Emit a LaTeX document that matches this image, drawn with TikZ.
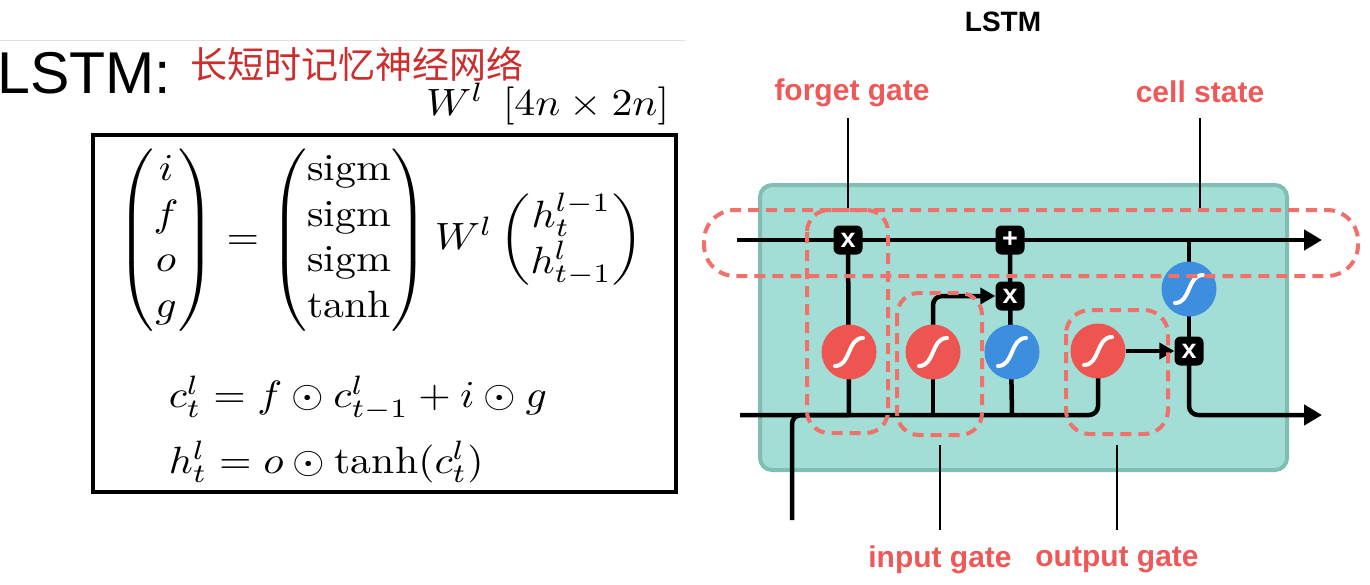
\documentclass[tikz,border=0pt]{standalone}
\usepackage{fontspec}
\usepackage{amsmath}
\newfontfamily\arial{Liberation Sans}
\newfontfamily\cjk{Noto Sans CJK SC}
\usetikzlibrary{arrows.meta}
\pgfdeclarelayer{back}\pgfdeclarelayer{lines}\pgfdeclarelayer{fore}
\pgfsetlayers{back,lines,main,fore}
\definecolor{tealfill}{RGB}{162,222,213}
\definecolor{tealborder}{RGB}{128,190,180}
\definecolor{sigred}{RGB}{238,85,80}
\definecolor{sigblue}{RGB}{62,142,224}
\definecolor{dashred}{RGB}{240,112,106}
\definecolor{labred}{RGB}{238,88,88}
\definecolor{cnred}{RGB}{205,45,45}
\begin{document}
\begin{tikzpicture}[x=1pt,y=-1pt,
 conn/.style={line width=4.5pt, draw=black},
 arr/.style={conn,-{Triangle[length=18pt,width=20pt]}},
 sarr/.style={conn,-{Triangle[length=15pt,width=16pt]}},
 op/.style={fill=black, rounded corners=6pt, minimum size=29pt, inner sep=0pt, text=white, font=\arial\bfseries\fontsize{27}{27}\selectfont},
 sg/.style={circle, fill=#1, minimum size=55pt, inner sep=0pt},
 gd/.style={draw=dashred, line width=4pt, dash pattern=on 11pt off 7pt, rounded corners=#1},
 lab/.style={text=labred, font=\arial\bfseries\fontsize{30}{32}\selectfont, inner sep=0pt},
 pointer/.style={line width=2pt, draw=black},
 eqn/.style={inner sep=0pt, xscale=4.18, yscale=3.8}
]
\useasboundingbox (0,0) rectangle (1370,584);
% ---------- left side ----------
\draw[black!12, line width=1pt] (0,40) -- (685,40);
\node[anchor=west, inner sep=0pt, font=\arial\fontsize{59}{60}\selectfont] (title) at (-3,73) {LSTM:};
\node[anchor=west, inner sep=0pt, text=cnred, font=\cjk\fontsize{37}{38}\selectfont] (cn) at (190,64) {长短时记忆神经网络};
\node[anchor=east, eqn] (wdim) at (670,104) {$W^l\;\,[4n\times 2n]$};
\node[draw, line width=4pt, minimum width=583pt, minimum height=357pt, inner sep=0pt] (box) at (384.5,313.5) {};
\node[eqn] (eq1) at (380,240) {$\begin{pmatrix} i\\ f\\ o\\ g\end{pmatrix} = \begin{pmatrix}\mathrm{sigm}\\ \mathrm{sigm}\\ \mathrm{sigm}\\ \tanh\end{pmatrix} W^l \begin{pmatrix} h^{l-1}_t\\ h^l_{t-1}\end{pmatrix}$};
\node[anchor=west, eqn] (eq2) at (168,398) {$c^l_t = f\odot c^l_{t-1} + i\odot g$};
\node[anchor=west, eqn] (eq3) at (168,462) {$h^l_t = o\odot \tanh(c^l_t)$};
% ---------- right side ----------
\node[font=\arial\bfseries\fontsize{28}{30}\selectfont, inner sep=0pt] (lstm) at (1003,22) {LSTM};
\begin{pgfonlayer}{back}
\draw[draw=tealborder, fill=tealfill, line width=4pt, rounded corners=12pt] (760,185) rectangle (1287,470);
\end{pgfonlayer}
% operators and gates
\node[op] (fx) at (848,240) {x};
\node[op] (px) at (1010,240) {+};
\node[op] (ix) at (1010,296) {x};
\node[op] (ox) at (1189,351) {x};
\node[sg=sigred] (s1) at (849,352) {};
\node[sg=sigred] (s2) at (933,352) {};
\node[sg=sigblue] (s3) at (1012,352) {};
\node[sg=sigred] (s4) at (1098,351) {};
\node[sg=sigblue] (t) at (1189,289) {};
\foreach \n in {s1,s2,s3,s4,t}
  \draw[white, line width=4pt, line cap=round] ([shift={(-14,14)}]\n.center) .. controls ([shift={(2,14)}]\n.center) and ([shift={(-2,-14)}]\n.center) .. ([shift={(14,-14)}]\n.center);
\coordinate (cin) at (737,240);
\coordinate (cout) at (1322,240);
\coordinate (bin) at (740,415);
\coordinate (bout) at (1322,415);
\coordinate (xin) at (792,520);
\begin{pgfonlayer}{lines}
\draw[arr] (cin) -- (fx.center) -- (px.center) -- (cout);
\draw[conn, rounded corners=9pt] (bin) -| (s4.center);
\draw[conn, rounded corners=9pt] (xin) |- (s1 |- bin);
\draw[conn] (fx.center) -- (s1 |- bin);
\draw[conn] (s2 |- bin) -- (s2.center);
\draw[sarr, rounded corners=9pt] (s2.center) |- (ix.west);
\draw[conn] (s3 |- bin) -- (ix.center) -- (px.center);
\draw[sarr] (s4.east) -- (ox.west);
\draw[conn] (t |- cin) -- (t.center) -- (ox.center);
\draw[arr, rounded corners=9pt] (ox.center) |- (bout);
\end{pgfonlayer}
% dashed gate outlines
\begin{pgfonlayer}{fore}
\draw[gd=31pt] (704,210) rectangle (1358,276);
\draw[gd=22pt] (807,210) rectangle (888,433);
\draw[gd=22pt] (897,293) rectangle (982,435);
\draw[gd=24pt] (1066,310) rectangle (1168,434);
\end{pgfonlayer}
% labels
\node[lab] (lf) at (852,93) {forget gate};
\node[lab] (lc) at (1200,92) {cell state};
\node[lab] (li) at (940,560) {input gate};
\node[lab] (lo) at (1117,560) {output gate};
\coordinate (pf) at (848,210);
\coordinate (pc) at (1200,210);
\coordinate (pi) at (940,445);
\coordinate (po) at (1117,445);
\draw[pointer] (848,118) -- (pf);
\draw[pointer] (1200,118) -- (pc);
\draw[pointer] (pi) -- (940,530);
\draw[pointer] (po) -- (1117,530);
\end{tikzpicture}
\end{document}
